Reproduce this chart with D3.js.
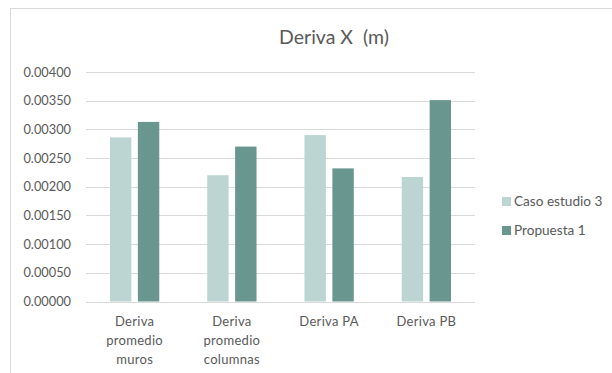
<!DOCTYPE html>
<html><head><meta charset="utf-8">
<script src="https://cdn.jsdelivr.net/npm/d3@7"></script>
<style>body{margin:0;background:#fff}svg{display:block}text{font-family:Lato,"Open Sans",sans-serif;fill:#595959}</style>
</head><body><svg id="c" width="612" height="373"></svg>
<script>
const categories = [["Deriva","promedio","muros"],["Deriva","promedio","columnas"],["Deriva PA"],["Deriva PB"]];
const seriesNames = ["Caso estudio 3","Propuesta 1"];
const caso3 = [0.00286, 0.00220, 0.00290, 0.00217];
const propuesta1 = [0.00313, 0.00270, 0.00232, 0.00351];
const tickValues = [0,0.0005,0.001,0.0015,0.002,0.0025,0.003,0.0035,0.004];
const colors = ["#BCD5D2","#6A9690"];

const svg = d3.select("#c");
svg.append("rect").attr("x",10.5).attr("y",8.5).attr("width",700).attr("height",500)
  .attr("fill","#fff").attr("stroke","#D9D9D9");

const x0 = d3.scaleBand().domain(d3.range(categories.length)).range([86,475]);
const y = d3.scaleLinear().domain([0,0.004]).range([301.5,72]);
const bw = x0.bandwidth()*0.22, gap = x0.bandwidth()*0.067;

svg.append("g").selectAll("line").data(tickValues).join("line")
  .attr("x1",86).attr("x2",475).attr("y1",d=>Math.round(y(d))+0.5).attr("y2",d=>Math.round(y(d))+0.5)
  .attr("stroke","#D9D9D9").attr("stroke-width",1);

const yAxis = d3.axisLeft(y).tickValues(tickValues).tickFormat(d3.format(".5f")).tickSize(0).tickPadding(0);
const ga = svg.append("g").attr("transform","translate(71,0)").call(yAxis);
ga.select(".domain").remove();
ga.selectAll("text").attr("font-size",12.8).attr("font-family","Lato").attr("fill","#595959");

const series = [caso3, propuesta1];
series.forEach((vals,s)=>{
  svg.append("g").selectAll("rect").data(vals).join("rect")
    .attr("x",(d,i)=>x0(i)+x0.bandwidth()/2 + (s===0 ? -gap/2-bw : gap/2))
    .attr("width",bw)
    .attr("y",d=>y(d)).attr("height",d=>y(0)-y(d))
    .attr("fill",colors[s]);
});

const cl = svg.append("g");
categories.forEach((lines,i)=>{
  const t = cl.append("text").attr("text-anchor","middle").attr("font-size",13).attr("letter-spacing",0.3)
    .attr("x",x0(i)+x0.bandwidth()/2).attr("y",326);
  lines.forEach((l,j)=>t.append("tspan").attr("x",x0(i)+x0.bandwidth()/2).attr("dy",j?19:0).text(l));
});

svg.append("text").attr("x",334).attr("y",44).attr("text-anchor","middle").attr("font-size",19.5)
  .text("Deriva X\u00a0\u00a0(m)");

const lg = svg.append("g");
seriesNames.forEach((n,i)=>{
  lg.append("rect").attr("x",502).attr("y",197+i*29).attr("width",9).attr("height",9).attr("fill",colors[i]);
  lg.append("text").attr("x",514).attr("y",206+i*29).attr("font-size",13.6).text(n);
});
</script></body></html>
